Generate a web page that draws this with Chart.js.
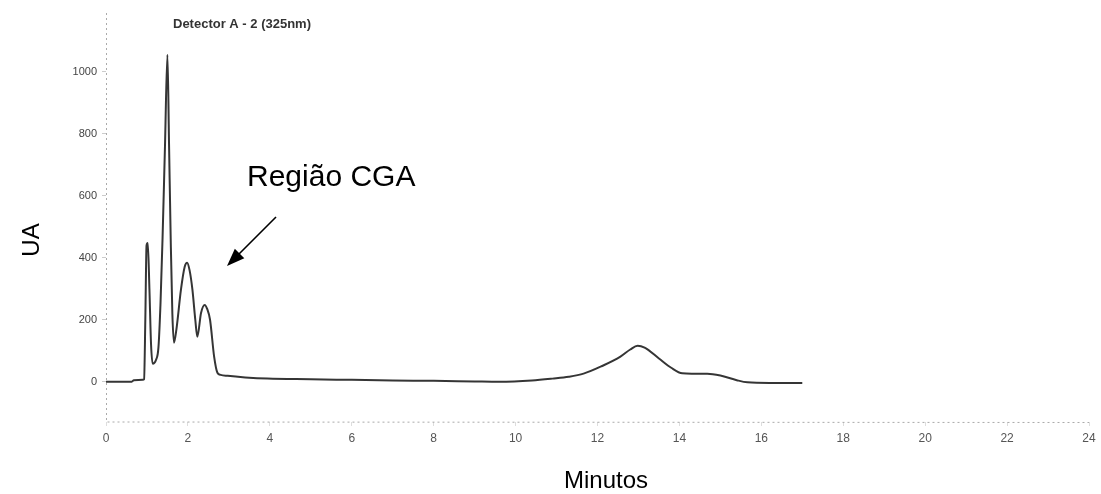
<!DOCTYPE html>
<html>
<head>
<meta charset="utf-8">
<title>Detector A - 2 (325nm)</title>
<script src="https://cdn.jsdelivr.net/npm/chart.js@4.4.1/dist/chart.umd.min.js"></script>
<style>
  html, body { margin: 0; padding: 0; background: #fff; }
  #wrap { width: 1101px; height: 494px; position: relative; }
</style>
</head>
<body>
<div id="wrap"><canvas id="chrom"></canvas></div>
<script>
// retention time (min) and detector response (UA)
const times = [
  0, 0.5, 0.63, 0.68, 0.9, 0.93, 0.96, 0.99, 1.02, 1.06, 1.1, 1.14,
  1.22, 1.28, 1.33, 1.38, 1.44, 1.5, 1.54, 1.58, 1.62, 1.66,
  1.72, 1.83, 1.92, 1.98, 2.04, 2.11, 2.18, 2.23, 2.32, 2.41, 2.47, 2.54,
  2.64, 2.72, 2.8, 2.97, 3.4, 3.94, 5, 6, 7, 8, 9, 9.6,
  10.4, 10.9, 11.3, 11.66, 12.1, 12.56, 12.8, 12.98, 13.15, 13.5, 13.8,
  14.07, 14.3, 14.68, 15, 15.4, 15.66, 16.2, 17
];
const values = [
  0, 0, 0, 5, 6, 8, 200, 440, 448, 300, 120, 58,
  70, 110, 250, 460, 760, 1055, 760, 460, 220, 126,
  170, 297, 370, 384, 360, 297, 200, 145, 222, 248, 235, 200,
  81, 29, 22, 19, 14, 10, 8, 6, 4, 3, 1, 0,
  4, 10, 16, 26, 50, 81, 104, 116, 110, 75, 45,
  27, 26, 26, 20, 5, -2, -4, -4
];

const xTicks = [0, 2, 4, 6, 8, 10, 12, 14, 16, 18, 20, 22, 24];
const yTicks = [0, 200, 400, 600, 800, 1000];

const points = times.map((t, i) => ({ x: t, y: values[i] }));

// dotted axis lines along the left and bottom of the plot
const dottedAxes = {
  id: 'dottedAxes',
  beforeDatasetsDraw(chart) {
    const { ctx, chartArea: a } = chart;
    ctx.save();
    ctx.strokeStyle = '#aaa';
    ctx.lineWidth = 1;
    ctx.setLineDash([2, 3]);
    ctx.beginPath();
    ctx.moveTo(a.left + 0.5, a.top);
    ctx.lineTo(a.left + 0.5, a.bottom);
    ctx.lineTo(a.right, a.bottom + 0.5);
    ctx.stroke();
    ctx.restore();
  }
};

// texts and the arrow that sit on top of the plot
const notes = {
  id: 'notes',
  afterDraw(chart) {
    const ctx = chart.ctx;
    ctx.save();

    ctx.fillStyle = '#333';
    ctx.font = 'bold 13px "Liberation Sans", Arial, sans-serif';
    ctx.textAlign = 'left';
    ctx.textBaseline = 'middle';
    ctx.fillText('Detector A - 2 (325nm)', 173, 24);

    ctx.fillStyle = '#000';
    ctx.font = '30px "Liberation Sans", Arial, sans-serif';
    ctx.textBaseline = 'alphabetic';
    ctx.fillText('Região CGA', 247, 186);

    // arrow pointing down-left at the peaks
    const x1 = 276, y1 = 217, x2 = 227, y2 = 266;
    const ang = Math.atan2(y2 - y1, x2 - x1);
    const head = 19;
    ctx.strokeStyle = '#000';
    ctx.lineWidth = 1.6;
    ctx.beginPath();
    ctx.moveTo(x1, y1);
    ctx.lineTo(x2 - 12 * Math.cos(ang), y2 - 12 * Math.sin(ang));
    ctx.stroke();
    ctx.beginPath();
    ctx.moveTo(x2, y2);
    ctx.lineTo(x2 - head * Math.cos(ang - 0.36), y2 - head * Math.sin(ang - 0.36));
    ctx.lineTo(x2 - head * Math.cos(ang + 0.36), y2 - head * Math.sin(ang + 0.36));
    ctx.closePath();
    ctx.fill();

    ctx.font = '24px "Liberation Sans", Arial, sans-serif';
    ctx.textAlign = 'center';
    ctx.textBaseline = 'middle';
    ctx.fillText('Minutos', 606, 481);

    ctx.translate(32, 240);
    ctx.rotate(-Math.PI / 2);
    ctx.fillText('UA', 0, 0);

    ctx.restore();
  }
};

new Chart(document.getElementById('chrom'), {
  type: 'line',
  data: {
    datasets: [{
      data: points,
      borderColor: '#353535',
      borderWidth: 2,
      pointRadius: 0,
      fill: false,
      cubicInterpolationMode: 'monotone'
    }]
  },
  options: {
    responsive: true,
    maintainAspectRatio: false,
    animation: false,
    layout: { padding: { top: 13, right: 12, left: 0, bottom: 0 } },
    plugins: {
      legend: { display: false },
      tooltip: { enabled: false }
    },
    scales: {
      x: {
        type: 'linear',
        min: 0,
        max: 24,
        afterBuildTicks: (axis) => { axis.ticks = xTicks.map(v => ({ value: v })); },
        afterFit: (axis) => { axis.height = 72; },
        ticks: {
          color: '#555',
          padding: 5,
          maxRotation: 0,
          callback: (v) => String(v),
          font: { family: '"Liberation Sans Narrow", "Liberation Sans", Arial, sans-serif', size: 12 }
        },
        grid: { drawOnChartArea: false, drawTicks: true, tickLength: 4, color: '#ddd' },
        border: { display: false }
      },
      y: {
        min: -130,
        max: 1190,
        afterBuildTicks: (axis) => { axis.ticks = yTicks.map(v => ({ value: v })); },
        afterFit: (axis) => { axis.width = 106; },
        ticks: {
          color: '#444',
          padding: 5,
          callback: (v) => String(v),
          font: { family: '"Liberation Sans", Arial, sans-serif', size: 11 }
        },
        grid: { drawOnChartArea: false, drawTicks: true, tickLength: 4, color: '#ccc' },
        border: { display: false }
      }
    }
  },
  plugins: [dottedAxes, notes]
});
</script>
</body>
</html>
